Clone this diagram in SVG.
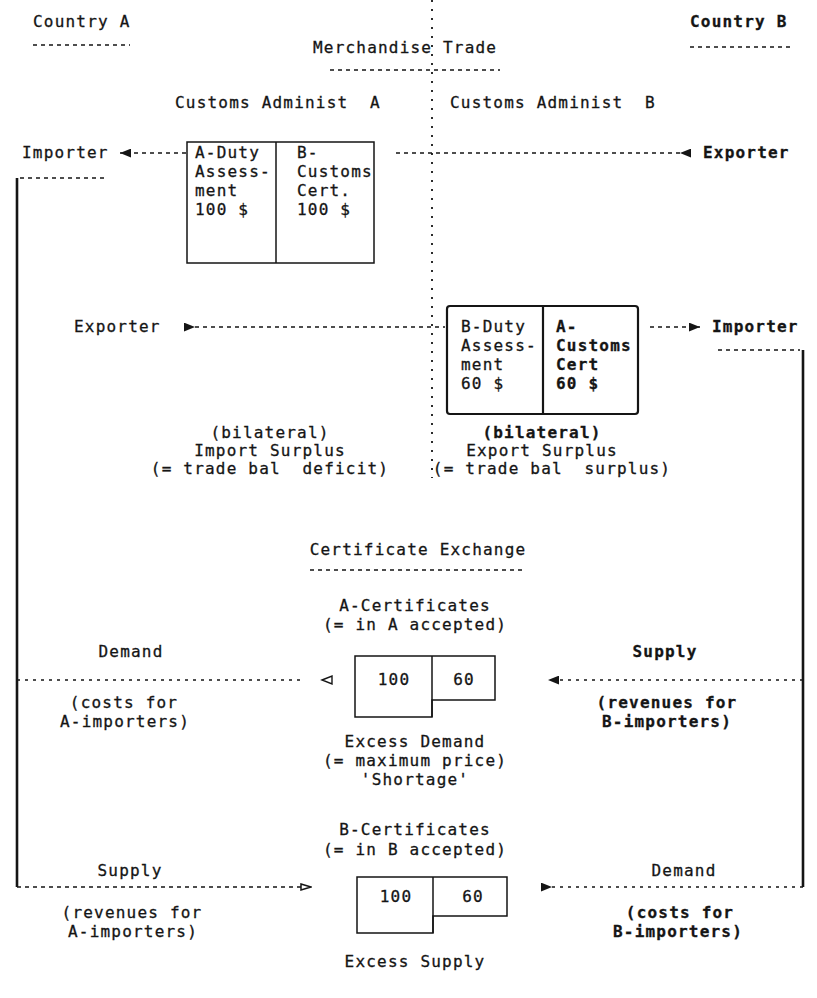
<svg xmlns="http://www.w3.org/2000/svg" width="817" height="998" viewBox="0 0 817 998">
<style>
.t{font-family:"DejaVu Sans Mono","Liberation Mono",monospace;font-size:16px;letter-spacing:1.2px;fill:#151515;stroke:#151515;stroke-width:0.3;white-space:pre}
.b{font-weight:bold}
.m{text-anchor:middle}
.dash{stroke:#151515;stroke-width:1.6;stroke-dasharray:4 4;fill:none}
.dot{stroke:#151515;stroke-width:1.6;stroke-dasharray:3 5;fill:none}
.div{stroke:#151515;stroke-width:1.8;stroke-dasharray:2 7;fill:none}
.solid{stroke:#151515;stroke-width:2.6;fill:none}
.box{fill:none;stroke:#151515;stroke-width:1.5}
.boxb{fill:none;stroke:#151515;stroke-width:2.2}
</style>
<defs>
<marker id="arr" viewBox="0 0 10 8" refX="10" refY="4" markerWidth="11" markerHeight="9" markerUnits="userSpaceOnUse" orient="auto">
<path d="M0,0 L10,4 L0,8 Z" fill="#151515"/>
</marker>
<marker id="open" viewBox="0 0 12 8" refX="12" refY="4" markerWidth="12" markerHeight="8" markerUnits="userSpaceOnUse" orient="auto">
<path d="M1,1 L11,4 L1,7 Z" fill="#fff" stroke="#151515" stroke-width="1.5"/>
</marker>
</defs>
<rect width="817" height="998" fill="#fff"/>

<g id="connectors">
<path class="div" d="M432,0 V478"/>
<path class="dash" d="M33,45 H130"/>
<path class="dash" d="M690,47 H790"/>
<path class="dash" d="M330,70 H500"/>
<path class="dash" d="M310,570 H525"/>
<path class="dash" d="M20,178 H105"/>
<path class="dash" d="M718,350 H800"/>
<path class="solid" d="M17,178 V887"/>
<path class="solid" d="M803,350 V887"/>
<path class="dash" d="M186,153 H120" marker-end="url(#arr)"/>
<path class="dash" d="M680,153 H395" marker-start="url(#arr)"/>
<path class="dash" d="M195,327 H445" marker-start="url(#arr)"/>
<path class="dash" d="M650,327 H700" marker-end="url(#arr)"/>
<path class="dot" d="M17,680 H300"/>
<polygon points="322,680 332,676 332,684" fill="#fff" stroke="#151515" stroke-width="1.4"/>
<path class="dot" d="M803,680 H548" marker-end="url(#arr)"/>
<path class="dash" d="M17,887 H312" marker-end="url(#open)"/>
<path class="dot" d="M552,887 H803" marker-start="url(#arr)"/>
</g>

<g id="country-a"><text class="t" x="33" y="27">Country A</text></g>
<g id="country-b"><text class="t b" x="690" y="27">Country B</text></g>
<g id="merchandise-trade"><text class="t" x="313" y="53">Merchandise Trade</text></g>
<g id="customs-a"><text class="t" x="175" y="108">Customs Administ  A</text></g>
<g id="customs-b"><text class="t" x="450" y="108">Customs Administ  B</text></g>

<g id="importer-a"><text class="t" x="22" y="158">Importer</text></g>
<g id="box-a">
<rect class="box" x="187" y="142" width="187" height="121"/>
<line class="box" x1="276" y1="142" x2="276" y2="263"/>
<text class="t" x="195" y="158">A-Duty</text>
<text class="t" x="195" y="177">Assess-</text>
<text class="t" x="195" y="196">ment</text>
<text class="t" x="195" y="215">100 $</text>
<text class="t" x="297" y="158">B-</text>
<text class="t" x="297" y="177">Customs</text>
<text class="t" x="297" y="196">Cert.</text>
<text class="t" x="297" y="215">100 $</text>
</g>
<g id="exporter-b"><text class="t b" x="703" y="158">Exporter</text></g>

<g id="exporter-a"><text class="t" x="74" y="332">Exporter</text></g>
<g id="box-b">
<rect class="boxb" x="447" y="306" width="191" height="108" rx="3"/>
<line class="boxb" x1="543" y1="306" x2="543" y2="414"/>
<text class="t" x="461" y="332">B-Duty</text>
<text class="t" x="461" y="351">Assess-</text>
<text class="t" x="461" y="370">ment</text>
<text class="t" x="461" y="389">60 $</text>
<text class="t b" x="556" y="332">A-</text>
<text class="t b" x="556" y="351">Customs</text>
<text class="t b" x="556" y="370">Cert</text>
<text class="t b" x="556" y="389">60 $</text>
</g>
<g id="importer-b"><text class="t b" x="712" y="332">Importer</text></g>

<g id="import-surplus">
<text class="t m" x="270" y="438">(bilateral)</text>
<text class="t m" x="270" y="456">Import Surplus</text>
<text class="t m" x="270" y="474">(= trade bal  deficit)</text>
</g>
<g id="export-surplus">
<text class="t m b" x="542" y="438">(bilateral)</text>
<text class="t m" x="542" y="456">Export Surplus</text>
<text class="t m" x="552" y="474">(= trade bal  surplus)</text>
</g>

<g id="certificate-exchange"><text class="t m" x="418" y="555">Certificate Exchange</text></g>

<g id="a-certificates">
<text class="t m" x="415" y="611">A-Certificates</text>
<text class="t m" x="415" y="630">(= in A accepted)</text>
<path class="box" d="M355,656 H495 V700 H432 V717 H355 Z"/>
<line class="box" x1="432" y1="656" x2="432" y2="717"/>
<text class="t m" x="394" y="685">100</text>
<text class="t m" x="464" y="685">60</text>
</g>
<g id="demand-a">
<text class="t m" x="131" y="657">Demand</text>
<text class="t m" x="124" y="708">(costs for</text>
<text class="t m" x="125" y="727">A-importers)</text>
</g>
<g id="supply-b">
<text class="t m b" x="665" y="657">Supply</text>
<text class="t m b" x="667" y="708">(revenues for</text>
<text class="t m b" x="667" y="727">B-importers)</text>
</g>
<g id="excess-demand">
<text class="t m" x="415" y="747">Excess Demand</text>
<text class="t m" x="415" y="766">(= maximum price)</text>
<text class="t m" x="415" y="785">'Shortage'</text>
</g>

<g id="b-certificates">
<text class="t m" x="415" y="835">B-Certificates</text>
<text class="t m" x="415" y="855">(= in B accepted)</text>
<path class="box" d="M357,877 H507 V916 H433 V933 H357 Z"/>
<line class="box" x1="433" y1="877" x2="433" y2="933"/>
<text class="t m" x="396" y="902">100</text>
<text class="t m" x="473" y="902">60</text>
</g>
<g id="supply-a">
<text class="t m" x="130" y="876">Supply</text>
<text class="t m" x="132" y="918">(revenues for</text>
<text class="t m" x="133" y="937">A-importers)</text>
</g>
<g id="demand-b">
<text class="t m" x="684" y="876">Demand</text>
<text class="t m b" x="680" y="918">(costs for</text>
<text class="t m b" x="678" y="937">B-importers)</text>
</g>
<g id="excess-supply"><text class="t m" x="415" y="967">Excess Supply</text></g>
</svg>
